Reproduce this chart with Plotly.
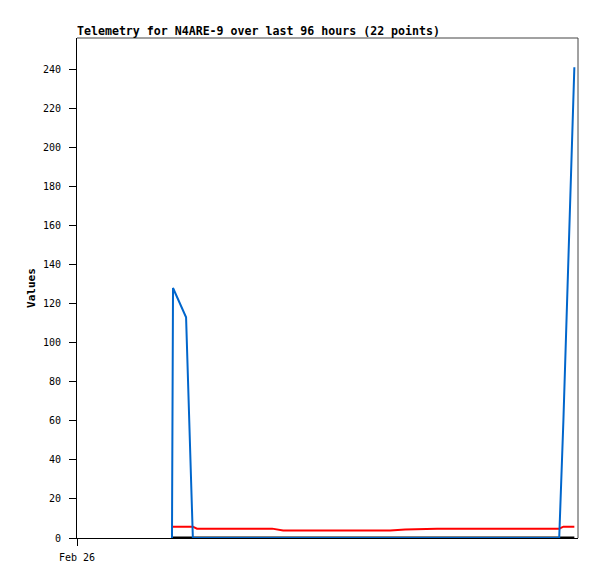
import plotly.graph_objects as go
from datetime import datetime, timedelta

start = datetime(2024, 2, 26, 0, 0)
hours = [18.2, 18.4, 20.9, 22.2, 23.0, 30.0, 37.4, 39.5, 45.0, 50.0, 55.0, 60.0,
         62.9, 69.0, 74.0, 79.0, 84.0, 88.0, 92.4, 93.2, 94.3, 95.3]
blue_vals = [0, 128, 113, 0, 0, 0, 0, 0, 0, 0, 0, 0,
             0, 0, 0, 0, 0, 0, 0, 60, 150, 241]
red_vals = [5.8, 5.8, 5.8, 5.8, 4.8, 4.8, 4.8, 3.9, 3.9, 3.9, 3.9, 3.9,
            4.3, 4.8, 4.8, 4.8, 4.8, 4.8, 4.8, 5.8, 5.8, 5.8]
black_vals = [0] * 22
y_ticks = list(range(0, 241, 20))
x_tick_labels = ["Feb 26"]

x = [start + timedelta(hours=h) for h in hours]
x_end = start + timedelta(hours=96)

mono = "DejaVu Sans Mono"

W, H = 589, 571  # page body has an 8px margin

fig = go.Figure()
fig.add_trace(go.Scatter(x=x, y=black_vals, mode="lines", line=dict(color="black", width=3), hoverinfo="skip"))
fig.add_trace(go.Scatter(x=x, y=red_vals, mode="lines", line=dict(color="#ff0000", width=2)))
fig.add_trace(go.Scatter(x=x, y=blue_vals, mode="lines", line=dict(color="#0066cc", width=2)))

fig.update_layout(
    width=W, height=H,
    margin=dict(l=69, r=19, t=30, b=41, pad=0),
    paper_bgcolor="white", plot_bgcolor="white",
    showlegend=False,
    title=dict(text="<b>Telemetry for N4ARE-9 over last 96 hours (22 points)</b>",
               x=69/W, xanchor="left", y=1-23/H, yanchor="middle",
               font=dict(family=mono, size=11.6, color="black")),
    font=dict(family=mono, size=10, color="black"),
)
fig.update_xaxes(
    range=[start, x_end], showgrid=False, zeroline=False,
    showline=True, linecolor="black", linewidth=1,
    ticks="outside", ticklen=7, tickcolor="black", tickwidth=1,
    tickvals=[start], ticktext=x_tick_labels,
    tickfont=dict(family=mono, size=10), ticklabelstandoff=3,
)
fig.update_yaxes(
    range=[0, 256], showgrid=False, zeroline=False,
    showline=True, linecolor="black", linewidth=1,
    ticks="outside", ticklen=7, tickcolor="black", tickwidth=1,
    tickvals=y_ticks, ticktext=[f"{v}\u00a0" for v in y_ticks],
    tickfont=dict(family=mono, size=10),
    title=dict(text="<b>Values</b>", font=dict(family=mono, size=11), standoff=5),
)
# top and right border of frame
fig.add_shape(type="line", xref="paper", yref="paper", x0=0, x1=1, y0=1, y1=1,
              line=dict(color="#444444", width=1))
fig.add_shape(type="line", xref="paper", yref="paper", x0=1, x1=1, y0=0, y1=1,
              line=dict(color="#444444", width=1))

fig.write_html("out.html")
